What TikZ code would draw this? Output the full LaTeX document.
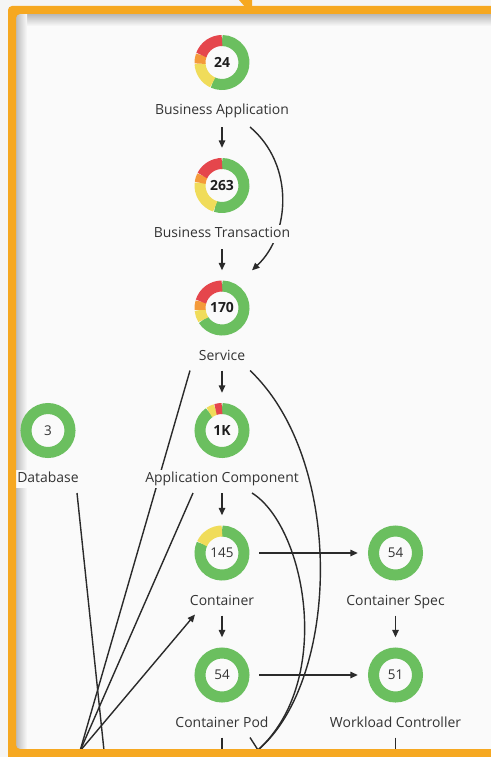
\documentclass[tikz,border=0pt]{standalone}
\usepackage{fontspec}
\setmainfont{Open Sans}
\usetikzlibrary{arrows.meta}

\definecolor{pagebg}{HTML}{F5F5F5}
\definecolor{panelbg}{HTML}{FAFAFA}
\definecolor{frame}{HTML}{F6A821}
\definecolor{okgreen}{HTML}{6BBF5F}
\definecolor{badred}{HTML}{E5464C}
\definecolor{warnorange}{HTML}{F49A3A}
\definecolor{warnyellow}{HTML}{F0DC5A}
\definecolor{ink}{HTML}{1E1E1E}
\definecolor{inksoft}{HTML}{333333}
\definecolor{edge}{HTML}{2A2A2A}

\pgfdeclarelayer{paper}
\pgfdeclarelayer{edges}
\pgfsetlayers{paper,edges,main}

% one coloured sector of a status ring, drawn counter-clockwise
\newcommand{\ringseg}[4]{%
  \draw[line width=11bp,#4] (#1.center) ++(#2:22) arc[start angle=#2,end angle=#3,radius=22];}
% a ring in a single colour
\newcommand{\ringfull}[2]{%
  \draw[line width=11bp,#2] (#1.center) circle[radius=22];}

\begin{document}
\begin{tikzpicture}[x=1bp,y=1bp,
  donut/.style={circle,minimum size=55bp,inner sep=0pt,
    font=\fontsize{14}{15}\selectfont\bfseries,text=ink},
  calm/.style={circle,minimum size=55bp,inner sep=0pt,
    font=\fontsize{13.5}{15}\selectfont,text=inksoft},
  lbl/.style={inner sep=2.5bp,text height=10bp,text depth=3bp,fill=panelbg,
    font=\fontsize{14}{15}\selectfont,text=inksoft},
  arr/.style={draw=edge,line width=1.4bp,-{Triangle[length=7.5bp,width=6.5bp]}},
  link/.style={draw=edge,line width=1.4bp}]

\useasboundingbox (0,0) rectangle (491,-757);

% page and panel
\begin{pgfonlayer}{paper}
\fill[pagebg] (0,0) rectangle (491,-757);
\fill[panelbg] (16,-14) rectangle (491,-749);
% inner shadow along the top and left of the panel
\shade[top color=black!28,bottom color=panelbg] (16,-14) rectangle (491,-26);
\shade[left color=black!26,right color=panelbg] (16,-14) rectangle (27,-749);
\end{pgfonlayer}

% ---- nodes ----
\node[donut] (ba) at (222,-62.5) {24};
\node[lbl]   (balbl) at (222,-111) {Business Application};
\node[donut] (bt) at (222,-185.5) {263};
\node[lbl]   (btlbl) at (222,-234) {Business Transaction};
\node[donut] (sv) at (222,-308) {170};
\node[lbl]   (svlbl) at (222,-356.5) {Service};
\node[donut] (ac) at (222,-430.5) {1K};
\node[lbl]   (aclbl) at (222,-479) {Application Component};
\node[calm]  (db) at (48,-430.5) {3};
\node[lbl]   (dblbl) at (48,-479) {Database};
\node[calm]  (ct) at (222,-553) {145};
\node[lbl]   (ctlbl) at (222,-601.5) {Container};
\node[calm]  (cs) at (395.5,-553) {54};
\node[lbl]   (cslbl) at (395.5,-601.5) {Container Spec};
\node[calm]  (cp) at (222,-675) {54};
\node[lbl]   (cplbl) at (222,-723.5) {Container Pod};
\node[calm]  (wc) at (395.5,-675) {51};
\node[lbl]   (wclbl) at (395.5,-723.5) {Workload Controller};

% ends of links that continue below the panel
\coordinate (hidA) at (80,-751);
\coordinate (hidB) at (258,-750);
\coordinate (hidC) at (105,-760);
\coordinate (cpdown) at (222,-760);
\coordinate (wcdown) at (395.5,-760);

% ---- status rings ----
\ringseg{ba}{-115}{90}{okgreen}
\ringseg{ba}{183}{245}{warnyellow}
\ringseg{ba}{160}{183}{warnorange}
\ringseg{ba}{90}{160}{badred}

\ringseg{bt}{-108}{90}{okgreen}
\ringseg{bt}{173}{252}{warnyellow}
\ringseg{bt}{153}{173}{warnorange}
\ringseg{bt}{90}{153}{badred}

\ringseg{sv}{-148}{90}{okgreen}
\ringseg{sv}{185}{212}{warnyellow}
\ringseg{sv}{163}{185}{warnorange}
\ringseg{sv}{90}{163}{badred}

\ringseg{ac}{-235}{90}{okgreen}
\ringseg{ac}{107}{125}{warnyellow}
\ringseg{ac}{90}{107}{badred}

\ringseg{ct}{-205}{90}{okgreen}
\ringseg{ct}{90}{155}{warnyellow}

\ringfull{db}{okgreen}
\ringfull{cs}{okgreen}
\ringfull{cp}{okgreen}
\ringfull{wc}{okgreen}

% ---- links (kept beneath the labels) ----
\begin{pgfonlayer}{edges}
\draw[arr] ([yshift=-16bp]balbl.center) -- ([yshift=10bp]bt.north);
\draw[arr] ([xshift=28bp,yshift=-16bp]balbl.center)
  .. controls +(45,-38) and +(38,35.5) .. ([xshift=30bp,yshift=10bp]sv.north);
\draw[arr] ([yshift=-15bp]btlbl.center) -- ([yshift=10bp]sv.north);
\draw[arr] ([yshift=-14bp]svlbl.center) -- ([yshift=10bp]ac.north);
\draw[arr] ([yshift=-14bp]aclbl.center) -- ([yshift=10bp]ct.north);
\draw[arr] ([yshift=-14bp]ctlbl.center) -- ([yshift=10bp]cp.north);
\draw[arr] ([yshift=-14bp]cslbl.center) -- ([yshift=10bp]wc.north);
\draw[arr] ([xshift=9.5bp]ct.east) -- ([xshift=-10bp]cs.west);
\draw[arr] ([xshift=9.5bp]cp.east) -- ([xshift=-10bp]wc.west);

\draw[link] ([xshift=-32bp,yshift=-14bp]svlbl.center) -- (hidA);
\draw[link] ([xshift=-29bp,yshift=-14bp]aclbl.center) -- (hidA);
\draw[link] ([xshift=29bp,yshift=-14bp]dblbl.center) -- (hidC);
\draw[arr] (hidA) -- ([xshift=-27bp,yshift=-13bp]ctlbl.center);

\draw[link] ([xshift=28bp,yshift=-14bp]svlbl.center)
  .. controls +(95,-90) and +(82,70) .. (hidB);
\draw[link] ([xshift=30bp,yshift=-14bp]aclbl.center)
  .. controls +(53,-33) and +(77,70) .. (hidB);
\draw[link] ([xshift=28bp,yshift=-14bp]cplbl.center) -- (hidB);
\draw[link] ([yshift=-14bp]cplbl.center) -- (cpdown);
\draw[link] ([yshift=-14bp]wclbl.center) -- (wcdown);
\end{pgfonlayer}

% ---- orange selection frame ----
\fill[frame,even odd rule,rounded corners=4bp]
  (8,-6) rectangle (520,-790) (16,-14) rectangle (512,-749);
\fill[frame] (239,0) -- (252,0) -- (252,-8) -- (246,-8) -- cycle;
\end{tikzpicture}
\end{document}
